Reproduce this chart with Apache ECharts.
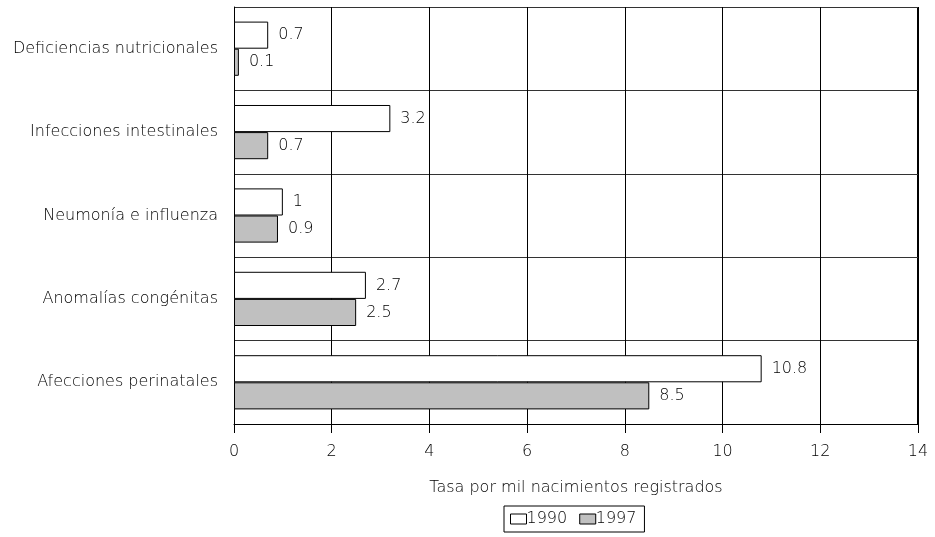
<!DOCTYPE html>
<html>
<head>
<meta charset="utf-8">
<script src="https://cdn.jsdelivr.net/npm/echarts@6/dist/echarts.min.js"></script>
<style>
  html, body { margin: 0; padding: 0; background: #fff; }
  #chart { width: 935px; height: 537px; }
</style>
</head>
<body>
<div id="chart"></div>
<script>
// Causes of death, top to bottom
const categories = [
  'Deficiencias nutricionales',
  'Infecciones intestinales',
  'Neumonía e influenza',
  'Anomalías congénitas',
  'Afecciones perinatales'
];
const values1990 = [0.7, 3.2, 1, 2.7, 10.8];
const values1997 = [0.1, 0.7, 0.9, 2.5, 8.5];
const xTicks = [0, 2, 4, 6, 8, 10, 12, 14];
const axisTitle = 'Tasa por mil nacimientos registrados';

const FONT = 'DejaVu Sans';
const FS = 16;
const FW = 300;
const TEXT = '#000';

const GRID = { left: 234, right: 17, top: 7, bottom: 113 };
const W = 935, H = 537;

const chart = echarts.init(document.getElementById('chart'), null, { renderer: 'canvas' });

chart.setOption({
  animation: false,
  backgroundColor: '#fff',
  textStyle: { fontFamily: FONT },
  grid: Object.assign({ containLabel: false }, GRID),
  xAxis: {
    type: 'value',
    min: xTicks[0],
    max: xTicks[xTicks.length - 1],
    interval: 2,
    name: axisTitle,
    nameLocation: 'middle',
    nameGap: 56,
    nameTextStyle: { fontFamily: FONT, fontSize: FS, fontWeight: FW, color: TEXT },
    axisLine: { show: true, lineStyle: { color: '#000', width: 1 } },
    axisTick: { show: true, length: 9, lineStyle: { color: '#000' } },
    axisLabel: { fontFamily: FONT, fontSize: FS, fontWeight: FW, color: TEXT, margin: 20 },
    splitLine: { show: true, lineStyle: { color: '#000', width: 1 } }
  },
  yAxis: {
    type: 'category',
    data: categories,
    inverse: true,
    axisLine: { show: true, lineStyle: { color: '#000', width: 1 } },
    axisTick: { show: false },
    axisLabel: { fontFamily: FONT, fontSize: FS, fontWeight: FW, color: TEXT, margin: 16 },
    splitLine: { show: true, lineStyle: { color: '#333', width: 1 } }
  },
  legend: {
    left: 504,
    top: 506,
    orient: 'horizontal',
    itemWidth: 16,
    itemHeight: 10,
    itemGap: 12,
    padding: [5, 8, 5, 6],
    borderColor: '#000',
    borderWidth: 1,
    borderRadius: 0,
    textStyle: { fontFamily: FONT, fontSize: FS, fontWeight: FW, color: TEXT, padding: [0, 0, 0, -5] },
    data: [
      { name: '1990', icon: 'rect', itemStyle: { color: '#fff', borderColor: '#000', borderWidth: 1 } },
      { name: '1997', icon: 'rect', itemStyle: { color: '#c0c0c0', borderColor: '#000', borderWidth: 1 } }
    ]
  },
  series: [
    {
      name: '1990',
      type: 'bar',
      data: values1990,
      barGap: '0%',
      barCategoryGap: '35%',
      itemStyle: { color: '#fff', borderColor: '#000', borderWidth: 1 },
      label: { show: true, position: 'right', distance: 10, fontFamily: FONT, fontSize: FS, fontWeight: FW, color: TEXT }
    },
    {
      name: '1997',
      type: 'bar',
      data: values1997,
      barGap: '0%',
      barCategoryGap: '35%',
      itemStyle: { color: '#c0c0c0', borderColor: '#000', borderWidth: 1 },
      label: { show: true, position: 'right', distance: 10, fontFamily: FONT, fontSize: FS, fontWeight: FW, color: TEXT }
    }
  ],
  graphic: [
    // top and right frame of the plot area
    { type: 'line', shape: { x1: GRID.left, y1: GRID.top + 0.5, x2: W - GRID.right, y2: GRID.top + 0.5 }, style: { stroke: '#000', lineWidth: 1 } },
    { type: 'line', shape: { x1: W - GRID.right - 0.5, y1: GRID.top, x2: W - GRID.right - 0.5, y2: H - GRID.bottom }, style: { stroke: '#000', lineWidth: 1 } }
  ]
});
</script>
</body>
</html>
